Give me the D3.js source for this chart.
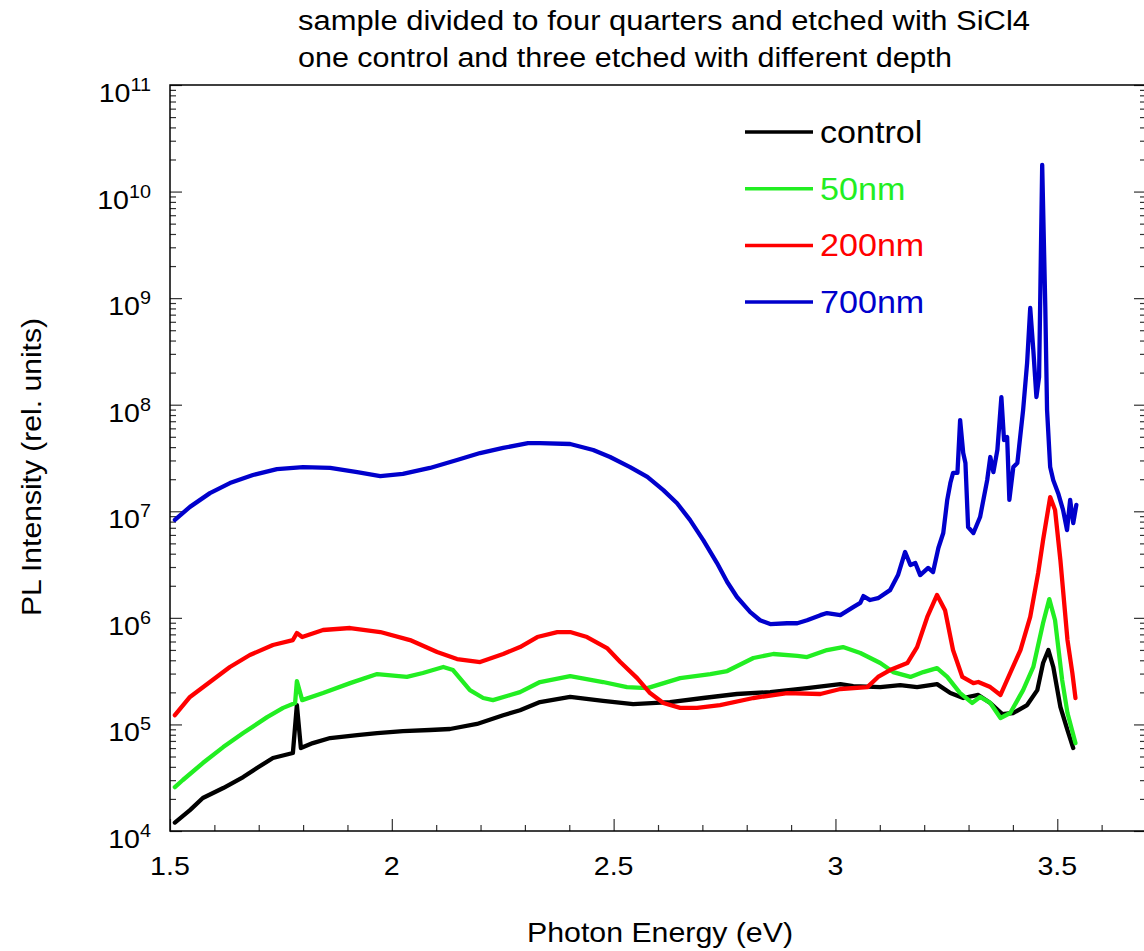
<!DOCTYPE html>
<html>
<head>
<meta charset="utf-8">
<script src="https://cdn.jsdelivr.net/npm/d3@7"></script>
<style>
  body { margin: 0; background: #fff; }
  text { font-family: "Liberation Sans", Arial, sans-serif; }
</style>
</head>
<body>
<div id="chart"></div>
<script>
// PL spectra: [photon energy (eV), PL intensity]
const control = [
  [1.511, 1.2e4], [1.545, 1.57e4], [1.574, 2.04e4], [1.620, 2.53e4], [1.665, 3.21e4],
  [1.696, 3.9e4], [1.732, 4.84e4], [1.777, 5.39e4], [1.786, 1.52e5], [1.795, 6.0e4],
  [1.822, 6.68e4], [1.861, 7.45e4], [1.922, 7.94e4], [1.967, 8.3e4], [2.025, 8.67e4],
  [2.086, 8.87e4], [2.131, 9.06e4], [2.192, 1.01e5], [2.251, 1.22e5], [2.289, 1.36e5],
  [2.334, 1.62e5], [2.402, 1.81e5], [2.476, 1.66e5], [2.544, 1.55e5], [2.627, 1.62e5],
  [2.702, 1.77e5], [2.778, 1.93e5], [2.853, 2.01e5], [2.936, 2.19e5], [3.011, 2.39e5],
  [3.040, 2.29e5], [3.101, 2.24e5], [3.146, 2.34e5], [3.184, 2.24e5], [3.229, 2.39e5],
  [3.259, 1.97e5], [3.288, 1.77e5], [3.322, 1.89e5], [3.349, 1.59e5], [3.376, 1.25e5],
  [3.401, 1.28e5], [3.432, 1.52e5], [3.455, 2.1e5], [3.468, 3.77e5], [3.480, 4.99e5],
  [3.491, 3.46e5], [3.507, 1.46e5], [3.523, 8.85e4], [3.536, 6.0e4]
];
const etched50 = [
  [1.511, 2.58e4], [1.529, 3.01e4], [1.574, 4.34e4], [1.620, 6.13e4], [1.665, 8.3e4],
  [1.719, 1.17e5], [1.755, 1.43e5], [1.782, 1.59e5], [1.786, 2.55e5], [1.798, 1.69e5],
  [1.845, 1.97e5], [1.906, 2.44e5], [1.967, 2.97e5], [2.034, 2.79e5], [2.070, 3.04e5],
  [2.116, 3.46e5], [2.138, 3.24e5], [2.176, 2.1e5], [2.206, 1.77e5], [2.228, 1.69e5],
  [2.267, 1.89e5], [2.289, 2.01e5], [2.334, 2.5e5], [2.402, 2.84e5], [2.476, 2.5e5],
  [2.530, 2.24e5], [2.576, 2.19e5], [2.650, 2.72e5], [2.718, 2.97e5], [2.756, 3.17e5],
  [2.815, 4.2e5], [2.860, 4.58e5], [2.914, 4.39e5], [2.936, 4.29e5], [2.981, 4.99e5],
  [3.017, 5.32e5], [3.056, 4.68e5], [3.101, 3.77e5], [3.130, 3.1e5], [3.169, 2.79e5],
  [3.198, 3.1e5], [3.229, 3.38e5], [3.252, 2.79e5], [3.281, 1.97e5], [3.308, 1.59e5],
  [3.326, 1.81e5], [3.349, 1.59e5], [3.372, 1.15e5], [3.394, 1.28e5], [3.423, 2.1e5],
  [3.446, 3.46e5], [3.468, 8.94e5], [3.482, 1.5e6], [3.495, 9.5e5], [3.511, 2.61e5],
  [3.523, 1.28e5], [3.541, 6.68e4]
];
const etched200 = [
  [1.511, 1.22e5], [1.545, 1.81e5], [1.590, 2.5e5], [1.635, 3.46e5], [1.680, 4.48e5],
  [1.732, 5.56e5], [1.777, 6.19e5], [1.786, 7.21e5], [1.798, 6.61e5], [1.845, 7.69e5],
  [1.906, 8.03e5], [1.974, 7.36e5], [2.041, 6.19e5], [2.102, 4.78e5], [2.147, 4.11e5],
  [2.199, 3.85e5], [2.251, 4.58e5], [2.289, 5.32e5], [2.328, 6.61e5], [2.373, 7.36e5],
  [2.402, 7.36e5], [2.440, 6.61e5], [2.485, 5.21e5], [2.515, 3.85e5], [2.553, 2.72e5],
  [2.582, 1.97e5], [2.612, 1.59e5], [2.650, 1.43e5], [2.688, 1.43e5], [2.740, 1.52e5],
  [2.815, 1.77e5], [2.891, 1.97e5], [2.966, 1.93e5], [3.011, 2.15e5], [3.072, 2.24e5],
  [3.096, 2.79e5], [3.123, 3.24e5], [3.162, 3.77e5], [3.184, 5.32e5], [3.207, 1.02e6],
  [3.229, 1.64e6], [3.247, 1.18e6], [3.265, 4.99e5], [3.286, 2.79e5], [3.311, 2.44e5],
  [3.322, 2.5e5], [3.349, 2.24e5], [3.372, 1.89e5], [3.394, 3.04e5], [3.417, 4.99e5],
  [3.439, 1.02e6], [3.457, 2.64e6], [3.468, 5.37e6], [3.484, 1.36e7], [3.495, 1.03e7],
  [3.507, 3.49e6], [3.523, 6.19e5], [3.534, 3.04e5], [3.541, 1.77e5]
];
const etched700 = [
  [1.511, 8.3e6], [1.545, 1.1e7], [1.590, 1.48e7], [1.635, 1.84e7], [1.687, 2.19e7],
  [1.741, 2.49e7], [1.800, 2.6e7], [1.861, 2.55e7], [1.922, 2.33e7], [1.974, 2.14e7],
  [2.025, 2.24e7], [2.086, 2.55e7], [2.147, 3.03e7], [2.199, 3.52e7], [2.251, 3.93e7],
  [2.307, 4.37e7], [2.334, 4.37e7], [2.402, 4.28e7], [2.454, 3.76e7], [2.492, 3.23e7],
  [2.537, 2.6e7], [2.576, 2.1e7], [2.612, 1.58e7], [2.643, 1.19e7], [2.672, 8.3e6],
  [2.702, 5.37e6], [2.733, 3.27e6], [2.756, 2.17e6], [2.778, 1.57e6], [2.808, 1.13e6],
  [2.830, 9.5e5], [2.853, 8.75e5], [2.891, 8.9e5], [2.914, 8.9e5], [2.936, 9.5e5],
  [2.966, 1.06e6], [2.981, 1.11e6], [3.011, 1.06e6], [3.040, 1.26e6], [3.056, 1.38e6],
  [3.063, 1.6e6], [3.078, 1.47e6], [3.096, 1.53e6], [3.123, 1.82e6], [3.141, 2.52e6],
  [3.157, 4.15e6], [3.169, 3.13e6], [3.180, 3.27e6], [3.191, 2.52e6], [3.209, 2.94e6],
  [3.220, 2.69e6], [3.232, 4.52e6], [3.243, 6.25e6], [3.252, 1.28e7], [3.259, 1.84e7],
  [3.265, 2.29e7], [3.275, 2.29e7], [3.281, 7.18e7], [3.288, 3.52e7], [3.293, 2.84e7],
  [3.299, 7.11e6], [3.311, 6.25e6], [3.326, 8.83e6], [3.342, 1.96e7], [3.349, 3.23e7],
  [3.356, 2.33e7], [3.365, 3.76e7], [3.374, 1.18e8], [3.380, 4.66e7], [3.387, 4.98e7],
  [3.392, 1.28e7], [3.401, 2.6e7], [3.410, 2.84e7], [3.423, 8.9e7], [3.432, 2.46e8],
  [3.439, 8.08e8], [3.446, 3.26e8], [3.453, 1.18e8], [3.459, 1.82e8], [3.466, 1.78e10],
  [3.473, 8.26e8], [3.477, 8.9e7], [3.484, 2.6e7], [3.491, 1.96e7], [3.502, 1.48e7],
  [3.513, 1.03e7], [3.522, 6.67e6], [3.529, 1.28e7], [3.536, 7.76e6], [3.543, 1.15e7]
];

const seriesNames = ['control', '50nm', '200nm', '700nm'];
const seriesColors = ['#000000', '#22ee22', '#ff0000', '#0000cc'];
const seriesData = [control, etched50, etched200, etched700];

const xMajorTicks = [1.5, 2, 2.5, 3, 3.5];
const xTickLabels = ['1.5', '2', '2.5', '3', '3.5'];
const yExponents = [4, 5, 6, 7, 8, 9, 10, 11];

const titleLines = [
  'sample divided to four quarters and etched with SiCl4',
  'one control and three etched with different depth'
];
const xLabel = 'Photon Energy (eV)';
const yLabel = 'PL Intensity (rel. units)';

const dimensions = {
  width: 1144,
  height: 951,
  margin: { top: 85, bottom: 120, left: 170, right: -2 }
};

// the original's lettering is a little wider than Arial
const stretch = 1.1;

const svg = d3.select('#chart').append('svg')
  .attr('width', dimensions.width)
  .attr('height', dimensions.height);

const x0 = dimensions.margin.left;
const x1 = dimensions.width - dimensions.margin.right;
const y0 = dimensions.height - dimensions.margin.bottom;
const y1 = dimensions.margin.top;

const xScale = d3.scaleLinear().domain([1.5, 3.7]).range([x0, x1]);
const yScale = d3.scaleLog().domain([1e4, 1e11]).range([y0, y1]);

// minor ticks
const xMinor = d3.range(15, 38).map(d => d / 10).filter(d => !xMajorTicks.includes(d));
const yMinor = [];
yExponents.slice(0, -1).forEach(e => {
  for (let m = 2; m <= 9; m++) yMinor.push(m * Math.pow(10, e));
});
const yMajor = yExponents.map(e => Math.pow(10, e));

function styleAxis(g) {
  g.select('.domain').remove();
  g.selectAll('.tick line').attr('stroke', '#333').attr('stroke-width', 1.2);
  g.selectAll('.tick text').remove();
}

svg.append('g').attr('transform', `translate(0,${y0})`)
  .call(d3.axisBottom(xScale).tickValues(xMinor).tickSizeInner(-6).tickSizeOuter(0))
  .call(styleAxis);
svg.append('g').attr('transform', `translate(0,${y0})`)
  .call(d3.axisBottom(xScale).tickValues(xMajorTicks).tickSizeInner(-12).tickSizeOuter(0))
  .call(styleAxis);

[[x0, d3.axisLeft], [x1, d3.axisRight]].forEach(([xp, axisFn]) => {
  svg.append('g').attr('transform', `translate(${xp},0)`)
    .call(axisFn(yScale).tickValues(yMinor).tickSizeInner(-6).tickSizeOuter(0))
    .call(styleAxis);
  svg.append('g').attr('transform', `translate(${xp},0)`)
    .call(axisFn(yScale).tickValues(yMajor).tickSizeInner(-12).tickSizeOuter(0))
    .call(styleAxis);
});

// frame
svg.append('rect')
  .attr('x', x0).attr('y', y1)
  .attr('width', x1 - x0).attr('height', y0 - y1)
  .attr('fill', 'none').attr('stroke', '#000').attr('stroke-width', 1.5);

// tick labels
svg.append('g').selectAll('text').data(xMajorTicks).enter().append('text')
  .attr('transform', d => `translate(${xScale(d)},${y0 + 44}) scale(${stretch},1)`)
  .attr('text-anchor', 'middle')
  .attr('font-size', '26px')
  .attr('fill', '#000')
  .text((d, i) => xTickLabels[i]);

const yLabels = svg.append('g').selectAll('text').data(yExponents).enter().append('text')
  .attr('transform', d => `translate(${x0 - 19},${yScale(Math.pow(10, d)) + 17}) scale(${stretch},1)`)
  .attr('text-anchor', 'end')
  .attr('fill', '#000');
yLabels.append('tspan').attr('font-size', '26px').text('10');
yLabels.append('tspan').attr('font-size', '18px').attr('dy', -11).text(d => d);

// axis titles
svg.append('text')
  .attr('x', 660).attr('y', 942)
  .attr('text-anchor', 'middle')
  .attr('font-size', '28px')
  .attr('textLength', 266).attr('lengthAdjust', 'spacingAndGlyphs')
  .text(xLabel);

svg.append('text')
  .attr('transform', 'translate(41,467) rotate(-90)')
  .attr('text-anchor', 'middle')
  .attr('font-size', '27px')
  .attr('textLength', 298).attr('lengthAdjust', 'spacingAndGlyphs')
  .text(yLabel);

// title
const titleLengths = [732, 654];
svg.append('g').selectAll('text').data(titleLines).enter().append('text')
  .attr('x', 298)
  .attr('y', (d, i) => 30 + i * 37)
  .attr('font-size', '27px')
  .attr('textLength', (d, i) => titleLengths[i]).attr('lengthAdjust', 'spacingAndGlyphs')
  .text(d => d);

// curves
const line = d3.line()
  .x(d => xScale(d[0]))
  .y(d => yScale(d[1]));

svg.append('g').selectAll('path').data(seriesData).enter().append('path')
  .attr('d', d => line(d))
  .attr('fill', 'none')
  .attr('stroke', (d, i) => seriesColors[i])
  .attr('stroke-width', 4.3)
  .attr('stroke-linejoin', 'round')
  .attr('stroke-linecap', 'round');

// legend
const legend = svg.append('g').attr('transform', 'translate(745,132)');
const legendItem = legend.selectAll('.legendItem').data(seriesNames).enter().append('g')
  .attr('class', 'legendItem')
  .attr('transform', (d, i) => `translate(0,${i * 56.7})`);
legendItem.append('line')
  .attr('x1', 0).attr('x2', 68).attr('y1', 0).attr('y2', 0)
  .attr('stroke', (d, i) => seriesColors[i])
  .attr('stroke-width', 3.5);
legendItem.append('text')
  .attr('transform', `translate(75,11) scale(${stretch},1)`)
  .attr('font-size', '31px')
  .attr('fill', (d, i) => seriesColors[i])
  .text(d => d);
</script>
</body>
</html>
